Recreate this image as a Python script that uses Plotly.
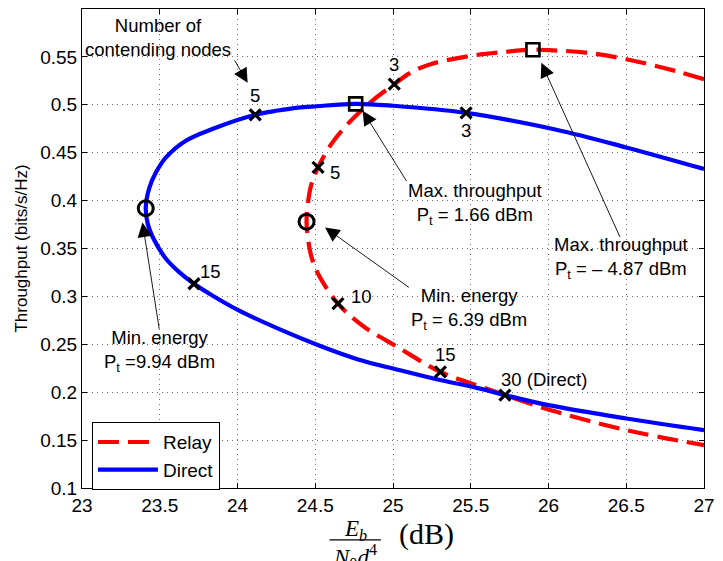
import plotly.graph_objects as go

# Throughput vs. normalised Eb/(N0 d^4) for relay and direct transmission
direct_x = [27.0, 26.5, 26.05, 25.47, 25.0, 24.76, 24.51, 24.39, 24.26, 24.114,
            23.838, 23.668, 23.54, 23.476, 23.434, 23.41, 23.423, 23.466, 23.54,
            23.625, 23.72, 23.838, 24.008, 24.28, 24.52, 24.77, 25.03, 25.28,
            25.54, 25.72, 26.0, 26.5, 27.0]
direct_y = [0.433, 0.4555, 0.474, 0.4915, 0.499, 0.501, 0.4985, 0.497, 0.494, 0.4896,
            0.4747, 0.4625, 0.4451, 0.4295, 0.4139, 0.393, 0.3757, 0.3583, 0.3393,
            0.3253, 0.3132, 0.301, 0.2854, 0.265, 0.249, 0.2345, 0.2235, 0.2135,
            0.2045, 0.197, 0.1865, 0.1726, 0.1604]

relay_x = [27.0, 26.815, 26.5, 26.24, 26.0, 25.90, 25.71, 25.496, 25.241, 25.114,
           25.008, 24.88, 24.795, 24.689, 24.603, 24.518, 24.476, 24.455, 24.444,
           24.455, 24.476, 24.518, 24.646, 24.816, 25.029, 25.305, 25.539, 25.72,
           26.05, 26.5, 27.0]
relay_y = [0.5267, 0.5354, 0.5476, 0.5545, 0.557, 0.5575, 0.555, 0.551, 0.5424, 0.5337,
           0.5215, 0.506, 0.4937, 0.4764, 0.459, 0.4347, 0.4174, 0.4, 0.378,
           0.3583, 0.341, 0.3236, 0.2924, 0.268, 0.2472, 0.2212, 0.2073, 0.197,
           0.1795, 0.1604, 0.1448]

# Number of contending nodes marked on each curve
direct_nodes = ["3", "5", "15", "30 (Direct)"]
direct_nodes_x = [25.47, 24.114, 23.72, 25.72]
direct_nodes_y = [0.4915, 0.4896, 0.3132, 0.197]

relay_nodes = ["3", "5", "10", "15"]
relay_nodes_x = [25.008, 24.518, 24.646, 25.305]
relay_nodes_y = [0.5215, 0.4347, 0.2924, 0.2212]

# Operating points: maximum throughput and minimum energy
direct_max = (24.76, 0.501)
direct_minE = (23.41, 0.392)
relay_max = (25.90, 0.5575)
relay_minE = (24.444, 0.378)

x_ticks = [23, 23.5, 24, 24.5, 25, 25.5, 26, 26.5, 27]
x_tick_text = ["23", "23.5", "24", "24.5", "25", "25.5", "26", "26.5", "27"]
y_ticks = [0.1, 0.15, 0.2, 0.25, 0.3, 0.35, 0.4, 0.45, 0.5, 0.55, 0.6]
y_tick_text = ["0.1", "0.15", "0.2", "0.25", "0.3", "0.35", "0.4", "0.45", "0.5", "0.55", "0.6"]

FONT = "Liberation Sans, Arial, Helvetica, sans-serif"
SERIF = "Liberation Serif, Times New Roman, serif"
TXT = 18.5

fig = go.Figure()

fig.add_trace(go.Scatter(x=relay_x, y=relay_y, mode="lines", name="Relay",
                         line=dict(color="#ff0000", width=4.2, dash="21px,9px", shape="spline",
                                   smoothing=1.0)))
fig.add_trace(go.Scatter(x=direct_x, y=direct_y, mode="lines", name="Direct",
                         line=dict(color="#0000ff", width=4.2, shape="spline", smoothing=1.0)))

# node-count crosses
fig.add_trace(go.Scatter(x=direct_nodes_x + relay_nodes_x, y=direct_nodes_y + relay_nodes_y,
                         mode="markers", showlegend=False,
                         marker=dict(symbol="x-thin", size=11, color="black",
                                     line=dict(color="black", width=3.2))))
# minimum-energy circles
fig.add_trace(go.Scatter(x=[direct_minE[0], relay_minE[0]], y=[direct_minE[1], relay_minE[1]],
                         mode="markers", showlegend=False,
                         marker=dict(symbol="circle-open", size=15, color="black",
                                     line=dict(color="black", width=3))))
# maximum-throughput squares
fig.add_trace(go.Scatter(x=[direct_max[0], relay_max[0]], y=[direct_max[1], relay_max[1]],
                         mode="markers", showlegend=False,
                         marker=dict(symbol="square-open", size=13, color="black",
                                     line=dict(color="black", width=2.6))))

annotations = []

# node-count labels beside the crosses
direct_offsets = [(0, -18, "center"), (0, 19, "center"), (17, 12, "center"), (-6, 16, "left")]
for lab, x, y, (dx, dy, xa) in zip(direct_nodes, direct_nodes_x, direct_nodes_y, direct_offsets):
    annotations.append(dict(x=x, y=y, text=lab, showarrow=False, xshift=dx, yshift=dy,
                            xanchor=xa, yanchor="middle", font=dict(size=TXT)))
relay_offsets = [(0, 20, "center"), (10, -5, "left"), (11, 7, "left"), (5, 17, "center")]
for lab, x, y, (dx, dy, xa) in zip(relay_nodes, relay_nodes_x, relay_nodes_y, relay_offsets):
    annotations.append(dict(x=x, y=y, text=lab, showarrow=False, xshift=dx, yshift=dy,
                            xanchor=xa, yanchor="middle", font=dict(size=TXT)))

# explanatory text blocks
notes = [
    (23.491, 0.570, "Number of<br>contending nodes"),
    (25.528, 0.396, "Max. throughput<br>P<sub>t</sub> = 1.66 dBm"),
    (26.464, 0.340, "Max. throughput<br>P<sub>t</sub> = \u2013 4.87 dBm"),
    (25.49, 0.2865, "Min. energy<br>P<sub>t</sub> = 6.39 dBm"),
    (23.50, 0.2427, "Min. energy<br>P<sub>t</sub> =9.94 dBm"),
]
for x, y, t in notes:
    annotations.append(dict(x=x, y=y, text=t, showarrow=False, font=dict(size=TXT),
                            align="center", xanchor="center", yanchor="middle"))

# pointer arrows (tail -> head)
arrows = [
    ((23.976, 0.548), (24.065, 0.523)),
    ((25.093, 0.4188), (24.805, 0.4938)),
    ((26.464, 0.3604), (25.954, 0.5438)),
    ((25.112, 0.3083), (24.563, 0.3719)),
    ((23.498, 0.2646), (23.389, 0.3771)),
]
for (tx, ty), (hx, hy) in arrows:
    annotations.append(dict(x=hx, y=hy, ax=tx, ay=ty, axref="x", ayref="y", text="",
                            showarrow=True, arrowhead=2, arrowsize=3.2, arrowwidth=0.9,
                            arrowcolor="black"))

# x-axis title: Eb / (N0 d^4) (dB)
annotations += [
    dict(xref="paper", yref="paper", x=0.4392, y=-0.087, text="<i>E</i><sub><i>b</i></sub>",
         showarrow=False, xanchor="center", yanchor="middle",
         font=dict(family=SERIF, size=23)),
    dict(xref="paper", yref="paper", x=0.4392, y=-0.143,
         text="<i>N</i><sub>0</sub><i>d</i><sup>4</sup>", showarrow=False,
         xanchor="center", yanchor="middle", font=dict(family=SERIF, size=23)),
    dict(xref="paper", yref="paper", x=0.5534, y=-0.097, text="(dB)", showarrow=False,
         xanchor="center", yanchor="middle", font=dict(family=SERIF, size=30)),
]
fig.add_shape(type="line", xref="paper", yref="paper", x0=0.398, x1=0.4805,
              y0=-0.1083, y1=-0.1083, line=dict(color="black", width=1.2))

axis_common = dict(showline=True, linecolor="black", linewidth=1, mirror="ticks",
                   ticks="inside", ticklen=5, tickcolor="black", tickwidth=1,
                   showgrid=True, gridcolor="#6e6e6e", gridwidth=1, griddash="1px,4px",
                   zeroline=False, tickfont=dict(size=19, color="black"))

fig.update_xaxes(range=[23, 27], tickvals=x_ticks, ticktext=x_tick_text, **axis_common)
fig.update_yaxes(range=[0.1, 0.6], tickvals=y_ticks, ticktext=y_tick_text,
                 title=dict(text="Throughput (bits/s/Hz)", font=dict(size=17), standoff=8),
                 **axis_common)

fig.update_layout(
    width=723, height=561,
    margin=dict(l=82, r=14, t=8, b=73),
    paper_bgcolor="white", plot_bgcolor="white",
    font=dict(family=FONT, color="black", size=TXT),
    annotations=annotations,
    legend=dict(x=0.016, y=0.1375, xanchor="left", yanchor="top",
                bgcolor="white", bordercolor="black", borderwidth=1,
                font=dict(size=19), itemwidth=60, tracegroupgap=0),
)

fig.write_html("out.html")
